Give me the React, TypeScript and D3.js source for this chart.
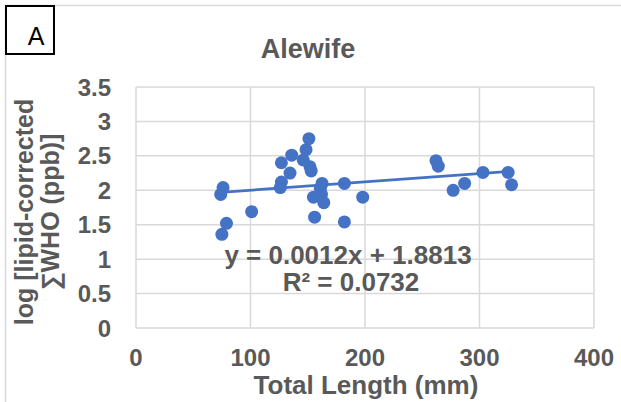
import React from "react";
import * as d3 from "d3";

const lengthsMm: number[] = [
  74, 76, 75, 79, 101, 126, 127, 127, 134.5, 136, 146, 148.5, 151, 152, 153, 155,
  156, 161, 162, 162.5, 164, 182, 182, 198, 262, 264, 277, 287, 303, 325, 328,
];
const logWho: number[] = [
  1.94, 2.04, 1.36, 1.52, 1.69, 2.04, 2.12, 2.4, 2.25, 2.51, 2.44, 2.59, 2.75, 2.34,
  2.28, 1.9, 1.61, 2.03, 1.94, 2.1, 1.82, 2.1, 1.54, 1.9, 2.43, 2.35, 2.0, 2.1, 2.26,
  2.26, 2.08,
];
const xTicks: number[] = [0, 100, 200, 300, 400];
const yTicks: number[] = [0, 0.5, 1, 1.5, 2, 2.5, 3, 3.5];
const slope = 0.0012;
const intercept = 1.8813;
const chartTitle = "Alewife";
const panelLabel = "A";
const xTitle = "Total Length (mm)";
const yTitleLines = ["log [lipid-corrected", "\u2211WHO (ppb)]"];
const eqText = "y = 0.0012x + 1.8813";
const r2Text = "R\u00B2 = 0.0732";

const W = 621;
const H = 402;
const plot = { left: 136, right: 594, top: 87, bottom: 328 };
const textColor = "#595959";
const blue = "#4472C4";
const font = "'Liberation Sans', Arial, sans-serif";

export default function App() {
  const x = d3.scaleLinear().domain([0, 400]).range([plot.left, plot.right]);
  const y = d3.scaleLinear().domain([0, 3.5]).range([plot.bottom, plot.top]);
  const pts = lengthsMm.map((v, i) => [v, logWho[i]] as [number, number]);
  const xMin = d3.min(lengthsMm) as number;
  const xMax = d3.max(lengthsMm) as number;
  const trend = d3.line<number>()
    .x((d) => x(d))
    .y((d) => y(slope * d + intercept))([xMin, xMax]);

  return (
    <div style={{ position: "fixed", left: 0, top: 0 }}>
      <svg width={W} height={H} style={{ display: "block", background: "#fff" }}>
        <rect x={5.5} y={5.5} width={700} height={500} fill="#fff" stroke="#d9d9d9" strokeWidth={1.5} />
        {yTicks.map((t) => (
          <line key={"gy" + t} x1={plot.left} x2={plot.right} y1={y(t)} y2={y(t)} stroke="#d9d9d9" strokeWidth={1.5} />
        ))}
        {xTicks.map((t) => (
          <line key={"gx" + t} x1={x(t)} x2={x(t)} y1={plot.top} y2={plot.bottom} stroke="#d9d9d9" strokeWidth={1.5} />
        ))}
        {yTicks.map((t) => (
          <text key={"ty" + t} x={111} y={y(t)} dy="0.36em" textAnchor="end" fontFamily={font} fontWeight="bold" fontSize={24} fill={textColor}>
            {String(t)}
          </text>
        ))}
        {xTicks.map((t) => (
          <text key={"tx" + t} x={x(t)} y={366} textAnchor="middle" fontFamily={font} fontWeight="bold" fontSize={24} fill={textColor}>
            {String(t)}
          </text>
        ))}
        <path d={trend || ""} stroke={blue} strokeWidth={2.75} fill="none" />
        {pts.map(([a, b], i) => (
          <circle key={i} cx={x(a)} cy={y(b)} r={6.5} fill={blue} />
        ))}
        <text x={348} y={264} textAnchor="middle" fontFamily={font} fontWeight="bold" fontSize={26} fill={textColor}>
          {eqText}
        </text>
        <text x={351} y={291} textAnchor="middle" fontFamily={font} fontWeight="bold" fontSize={26} fill={textColor}>
          {r2Text}
        </text>
        <text x={308} y={58} textAnchor="middle" fontFamily={font} fontWeight="bold" fontSize={27} fill={textColor}>
          {chartTitle}
        </text>
        <text x={366} y={394} textAnchor="middle" fontFamily={font} fontWeight="bold" fontSize={26} fill={textColor}>
          {xTitle}
        </text>
        {yTitleLines.map((s, i) => (
          <text key={i} transform={`translate(${33 + i * 26},${212}) rotate(-90)`} textAnchor="middle" fontFamily={font} fontWeight="bold" fontSize={25} fill={textColor}>
            {s}
          </text>
        ))}
        <rect x={6} y={6} width={48} height={48} fill="#fff" stroke="#000" strokeWidth={2} />
        <text x={36} y={45} textAnchor="middle" fontFamily={font} fontSize={25} fill="#000">
          {panelLabel}
        </text>
      </svg>
    </div>
  );
}
